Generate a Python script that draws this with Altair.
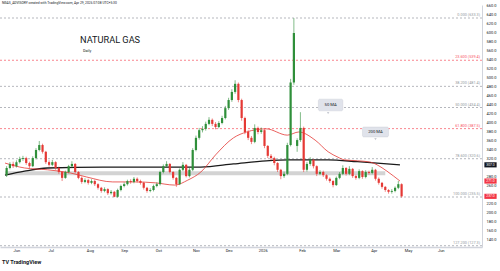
import altair as alt
import pandas as pd

# ---------------- data ----------------
opens = [284,300,309,304,313,320,322,311,304,322,
         340,351,336,313,307,313,300,291,278,291,
         304,309,291,278,269,273,267,271,264,256,
         249,253,244,247,236,251,260,264,271,269,
         276,271,267,256,249,251,260,264,291,304,
         309,291,278,264,296,307,282,296,340,367,
         384,387,398,407,398,391,400,411,433,451,
         469,487,451,411,380,367,358,389,380,384,
         349,327,322,311,296,282,287,351,490,349,
         362,389,296,309,318,304,287,291,284,276,
         271,262,278,287,300,287,298,282,278,293,
         280,291,289,296,276,267,258,251,247,249,
         256,264]
highs = [304,313,314,317,325,327,325,314,326,344,
         360,354,338,317,318,315,303,293,294,307,
         315,311,293,281,277,276,275,274,266,258,
         257,255,251,249,254,263,268,274,275,280,
         279,274,269,258,255,263,268,294,308,315,
         311,293,280,299,313,309,300,344,372,389,
         393,403,413,410,402,404,416,438,456,475,
         495,490,454,414,384,371,397,392,390,386,
         351,331,325,313,298,292,356,498,633,366,
         424,392,313,324,320,306,295,294,286,279,
         273,281,291,306,302,304,300,285,297,295,
         295,294,302,298,279,269,260,253,253,259,
         271,266]
lows = [280,297,300,301,310,316,307,300,302,319,
        337,332,309,303,304,296,287,271,276,288,
        301,288,275,265,266,263,264,260,252,245,
        246,240,241,235,234,248,257,261,265,266,
        268,263,252,245,246,248,257,261,288,301,
        288,274,258,262,293,279,279,293,337,363,
        379,383,395,393,386,388,397,408,429,447,
        465,446,405,375,362,353,355,375,376,344,
        322,317,306,291,275,278,284,348,485,336,
        358,291,292,305,299,282,284,280,272,267,
        257,260,275,284,283,284,278,274,275,276,
        277,285,286,272,263,254,247,243,243,246,
        253,234]
closes = [300,309,304,313,320,322,311,304,322,340,
          351,336,313,307,313,300,291,278,291,304,
          309,291,278,269,273,267,271,264,256,249,
          253,244,247,236,251,260,264,271,269,276,
          271,267,256,249,251,260,264,291,304,309,
          291,278,264,296,307,282,296,340,367,384,
          387,398,407,398,391,400,411,433,451,469,
          487,451,411,380,367,358,389,380,384,349,
          327,322,311,296,282,287,351,490,600,362,
          389,296,309,318,304,287,291,284,276,271,
          262,278,287,300,287,298,282,278,293,280,
          291,289,296,276,267,258,251,247,249,256,
          264,237]

ma50_idx = [0, 12, 26, 40, 50, 66, 80, 92, 104, 112, 120, 129, 140, 148, 160, 173, 180, 190, 198, 204, 208, 216, 224, 228, 234, 242]
ma50_val = [311, 300, 296, 289, 280, 269, 269, 267, 262, 273, 291, 329, 367, 380, 387, 373, 380, 362, 336, 324, 318, 316, 313, 307, 293, 271]

ma200_idx = [0, 12, 26, 60, 90, 120, 140, 160, 174, 186, 198, 216, 242]
ma200_val = [284, 293, 300, 302, 302, 302, 309, 316, 318, 318, 318, 314, 307]

fib_pct = ["0.000", "23.600", "38.200", "50.000", "61.800", "78.600", "100.000", "127.200"]
fib_val = [633.3, 539.4, 481.4, 434.4, 387.5, 320.6, 235.5, 127.3]
fib_col = ["#9598a1", "#f7525f", "#9598a1", "#9598a1", "#f7525f", "#9598a1", "#9598a1", "#9598a1"]

month_names = ["Jun", "Jul", "Aug", "Sep", "Oct", "Nov", "Dec", "2026", "Feb", "Mar", "Apr", "May", "Jun"]
month_idx = [7, 28, 52, 73, 94, 117, 137, 158, 182, 203, 226, 247, 267]

band_idx = [0, 233]
band_val = [284, 293]

note_text = ["50 MA", "200 MA"]
note_x1 = [192, 219]
note_x2 = [207, 235]
note_y1 = [427, 369]
note_y2 = [453, 391]
note_tip_x = [198, 227]
note_tip_y = [422, 364]

tag_val = [307, 271, 237]
tag_txt = ["307.0", "271.0", "237.0"]
tag_col = ["#131722", "#f23645", "#f23645"]

axis_ticks = [v for v in range(140, 661, 20) if v not in (240, 300)]

# ---------------- frames ----------------
n = len(closes)
candles = pd.DataFrame({
    "idx": [2 * i + 1 for i in range(n)],
    "o": opens, "h": highs, "l": lows, "c": closes,
})
candles["dir"] = ["up" if c >= o else "down" for o, c in zip(opens, closes)]

fib = pd.DataFrame({"v": fib_val, "col": fib_col,
                    "lab": [f"{p} ({v:.1f})" for p, v in zip(fib_pct, fib_val)]})
ma50 = pd.DataFrame({"idx": ma50_idx, "v": ma50_val})
ma200 = pd.DataFrame({"idx": ma200_idx, "v": ma200_val})
band = pd.DataFrame({"x1": [band_idx[0]], "x2": [band_idx[1]], "y1": [band_val[0]], "y2": [band_val[1]]})
notes = pd.DataFrame({"t": note_text, "x1": note_x1, "x2": note_x2, "y1": note_y1, "y2": note_y2,
                      "tx": note_tip_x, "ty": note_tip_y})
notes["xm"] = [(a + b) / 2 for a, b in zip(note_x1, note_x2)]
notes["ym"] = [(a + b) / 2 for a, b in zip(note_y1, note_y2)]
tags = pd.DataFrame({"v": tag_val, "t": tag_txt, "col": tag_col})

W, H = 482, 242
xs = alt.Scale(domain=[0, 289.2], nice=False, zero=False)
ys = alt.Scale(domain=[124.4, 662.2], nice=False, zero=False)

label_expr = ("[" + ",".join(f"'{m}'" for m in month_names) + "][indexof(["
              + ",".join(str(v) for v in month_idx) + "], datum.value)]")
x_axis = alt.Axis(values=month_idx, labelExpr=label_expr, labelFontSize=4, labelColor="#131722",
                  ticks=False, domain=True, domainColor="#d1d4dc", domainWidth=1.5, grid=False,
                  labelPadding=1.5, title=None, labelFont="Roboto")
y_axis = alt.Axis(orient="right", values=axis_ticks, format=".1f", labelFontSize=4, labelColor="#131722",
                  ticks=False, domain=True, domainColor="#d1d4dc", domainWidth=1, grid=False,
                  labelPadding=4, title=None, labelFont="Roboto")

def X(f):
    return alt.X(f, type="quantitative", scale=xs, axis=x_axis)

def Y(f):
    return alt.Y(f, type="quantitative", scale=ys, axis=y_axis)

col = alt.Color("dir:N", scale=alt.Scale(domain=["up", "down"], range=["#2f8f3a", "#e53935"]), legend=None)

band_l = alt.Chart(band).mark_rect(color="#c4c4c4", opacity=0.75).encode(
    x=X("x1"), x2="x2", y=Y("y1"), y2="y2")

fib_l = alt.Chart(fib).mark_rule(strokeDash=[2, 2], strokeWidth=0.7).encode(
    y=Y("v"), x=alt.value(0), x2=alt.value(W), color=alt.Color("col:N", scale=None))
fib_t = alt.Chart(fib).mark_text(align="right", baseline="bottom", fontSize=3.8, dy=-1, font="Roboto").encode(
    y=Y("v"), x=alt.value(W - 2), text="lab:N", color=alt.Color("col:N", scale=None))

ma200_l = alt.Chart(ma200).mark_line(color="#1a1a1a", strokeWidth=1.3, interpolate="monotone").encode(
    x=X("idx"), y=Y("v"))
ma50_l = alt.Chart(ma50).mark_line(color="#e53935", strokeWidth=0.8, interpolate="monotone").encode(
    x=X("idx"), y=Y("v"))

wick = alt.Chart(candles).mark_rule(strokeWidth=0.6).encode(x=X("idx"), y=Y("l"), y2="h", color=col)
body = alt.Chart(candles).mark_bar(size=2.2).encode(x=X("idx"), y=Y("o"), y2="c", color=col)

note_box = alt.Chart(notes).mark_rect(color="#e0e3eb", cornerRadius=1.5, stroke="#c8cbd3", strokeWidth=0.4).encode(
    x=X("x1"), x2="x2", y=Y("y1"), y2="y2")
note_tip = alt.Chart(notes).mark_point(shape="triangle-down", filled=True, size=6, color="#c8cbd3", opacity=1).encode(
    x=X("tx"), y=Y("ty"))
note_txt = alt.Chart(notes).mark_text(fontSize=4.2, color="#131722", font="Roboto").encode(
    x=X("xm"), y=Y("ym"), text="t:N")

tag_box = alt.Chart(tags).mark_point(shape="M-1,-0.42L1,-0.42L1,0.42L-1,0.42Z", filled=True, size=150, opacity=1).encode(
    x=alt.value(W + 8.5), y=Y("v"), color=alt.Color("col:N", scale=None))
tag_txt_l = alt.Chart(tags).mark_text(fontSize=3.4, color="white", font="Roboto").encode(
    x=alt.value(W + 8.5), y=Y("v"), text="t:N")

hdr = pd.DataFrame({"t": ["NGAS_ADVISORY created with TradingView.com, Apr 29, 2026 07:08 UTC+5:30"]})
header = alt.Chart(hdr).mark_text(align="left", baseline="middle", fontSize=3.3, color="#131722", font="Roboto").encode(
    x=alt.value(2), y=alt.value(-2), text="t:N")
ttl = pd.DataFrame({"t": ["NATURAL GAS"]})
title = alt.Chart(ttl).mark_text(align="left", baseline="alphabetic", fontSize=9.2, color="#131722", font="Roboto").encode(
    x=alt.value(80), y=alt.value(38), text="t:N")
sub = pd.DataFrame({"t": ["Daily"]})
subtitle = alt.Chart(sub).mark_text(align="left", baseline="alphabetic", fontSize=3.8, color="#131722", font="Roboto").encode(
    x=alt.value(83), y=alt.value(46.5), text="t:N")
logo_d = pd.DataFrame({"t": ["TV TradingView"]})
logo = alt.Chart(logo_d).mark_text(align="left", baseline="middle", fontSize=5.5, fontWeight="bold", color="#131722", font="Roboto").encode(
    x=alt.value(2), y=alt.value(257), text="t:N")

chart = alt.layer(
    band_l, fib_l, fib_t, ma200_l, ma50_l, wick, body, note_box, note_tip, note_txt,
    tag_box, tag_txt_l, header, title, subtitle, logo
).properties(
    width=W, height=H,
    autosize=alt.AutoSizeParams(type="none"),
    padding={"left": 0, "top": 5, "right": 18, "bottom": 24},
    background="white",
).configure_view(stroke=None)

chart.save("out.html", embed_options={"renderer": "svg", "actions": False})
